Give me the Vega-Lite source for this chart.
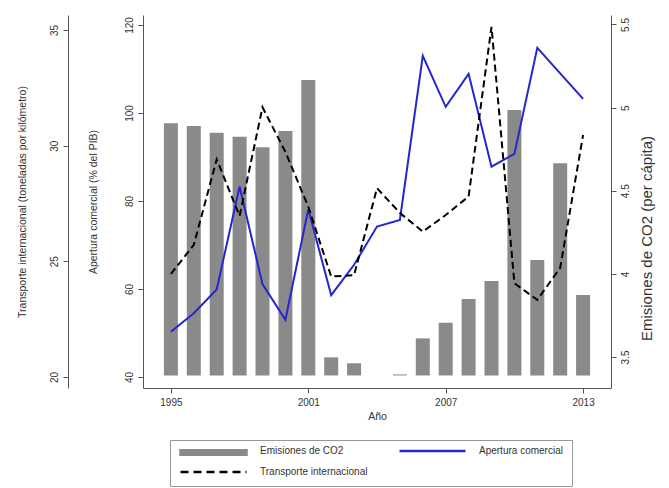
{
  "$schema": "https://vega.github.io/schema/vega-lite/v6.json",
  "width": 468,
  "height": 373,
  "autosize": {"type": "none"},
  "padding": {"left": 143, "top": 15, "right": 58, "bottom": 100},
  "background": "white",
  "config": {
    "font": "Liberation Sans",
    "view": {"stroke": null},
    "axis": {
      "domainColor": "#555555",
      "tickColor": "#555555",
      "labelColor": "#333333",
      "titleColor": "#333333",
      "labelFontSize": 10,
      "titleFontSize": 10.5,
      "titleFontWeight": "normal",
      "tickSize": 5,
      "grid": false
    }
  },
  "data": {
    "values": [
      {"year": 1995, "co2": 4.906, "apertura": 50.3, "transporte": 24.45},
      {"year": 1996, "co2": 4.889, "apertura": 54.5, "transporte": 25.71},
      {"year": 1997, "co2": 4.849, "apertura": 59.9, "transporte": 29.41},
      {"year": 1998, "co2": 4.825, "apertura": 83.3, "transporte": 26.96},
      {"year": 1999, "co2": 4.761, "apertura": 61.1, "transporte": 31.66},
      {"year": 2000, "co2": 4.859, "apertura": 53.0, "transporte": 29.73},
      {"year": 2001, "co2": 5.166, "apertura": 78.1, "transporte": 27.36},
      {"year": 2002, "co2": 3.498, "apertura": 58.6, "transporte": 24.34},
      {"year": 2003, "co2": 3.462, "apertura": 65.5, "transporte": 24.40},
      {"year": 2004, "co2": null, "apertura": 74.2, "transporte": 28.16},
      {"year": 2005, "co2": 3.395, "apertura": 75.7, "transporte": 27.09},
      {"year": 2006, "co2": 3.612, "apertura": 113.0, "transporte": 26.28},
      {"year": 2007, "co2": 3.706, "apertura": 101.4, "transporte": 27.00},
      {"year": 2008, "co2": 3.849, "apertura": 108.9, "transporte": 27.80},
      {"year": 2009, "co2": 3.957, "apertura": 87.8, "transporte": 35.14},
      {"year": 2010, "co2": 4.986, "apertura": 90.7, "transporte": 24.05},
      {"year": 2011, "co2": 4.083, "apertura": 114.8, "transporte": 23.33},
      {"year": 2012, "co2": 4.665, "apertura": 109.0, "transporte": 24.72},
      {"year": 2013, "co2": 3.873, "apertura": 103.2, "transporte": 30.46}
    ]
  },
  "encoding": {
    "x": {
      "field": "year",
      "type": "quantitative",
      "scale": {"domain": [1994, 2014], "nice": false, "zero": false},
      "axis": {"title": "Año", "values": [1995, 2001, 2007, 2013], "format": "d", "labelPadding": 4, "titlePadding": 4}
    }
  },
  "layer": [
    {
      "mark": {"type": "bar", "size": 14},
      "encoding": {
        "y": {
          "field": "co2",
          "type": "quantitative",
          "scale": {"domain": [3.3135, 5.557], "nice": false, "zero": false},
          "axis": {
            "orient": "right",
            "title": "Emisiones de CO2 (per cápita)",
            "titleFontSize": 15,
            "values": [3.5, 4, 4.5, 5, 5.5],
            "format": "~g",
            "labelAngle": -90,
            "labelPadding": 4,
            "titleAngle": -90,
            "titlePadding": 24,
            "titleY": 223
          }
        },
        "y2": {"datum": 3.389},
        "color": {
          "datum": "Emisiones de CO2",
          "type": "nominal",
          "scale": {
            "domain": ["Emisiones de CO2", "Transporte internacional", "Apertura comercial"],
            "range": ["#8a8a8a", "#000000", "#2626d0"]
          },
          "legend": {
            "title": null,
            "orient": "none",
            "legendX": 27,
            "legendY": 425,
            "columns": 2,
            "columnPadding": 30,
            "rowPadding": 11,
            "padding": 9,
            "strokeColor": "#999999",
            "fillColor": "white",
            "symbolSize": 4356,
            "clipHeight": 4,
            "labelOffset": 12,
            "labelFontSize": 10,
            "labelColor": "#333333",
            "labelLimit": 300,
            "encode": {
              "symbols": {
                "update": {
                  "shape": {"signal": "datum.value === 'Emisiones de CO2' ? 'M-1,-0.21H1V0.21H-1Z' : 'M-1,0H1'"},
                  "fill": {"signal": "datum.value === 'Emisiones de CO2' ? '#8a8a8a' : 'transparent'"},
                  "stroke": {"signal": "datum.value === 'Emisiones de CO2' ? 'transparent' : (datum.value === 'Apertura comercial' ? '#2626d0' : '#000000')"},
                  "strokeDash": {"signal": "datum.value === 'Transporte internacional' ? [8, 5] : [1, 0]"},
                  "strokeWidth": {"value": 2.5},
                  "opacity": {"value": 1}
                }
              }
            }
          }
        }
      }
    },
    {
      "mark": {"type": "line", "strokeWidth": 2},
      "encoding": {
        "y": {
          "field": "apertura",
          "type": "quantitative",
          "scale": {"domain": [37.5, 122.27], "nice": false, "zero": false},
          "axis": {
            "orient": "left",
            "title": "Apertura comercial (% del PIB)",
            "values": [40, 60, 80, 100, 120],
            "labelAngle": -90,
            "labelPadding": 4,
            "titlePadding": 26
          }
        },
        "color": {"datum": "Apertura comercial", "type": "nominal"}
      }
    },
    {
      "mark": {"type": "line", "strokeWidth": 2, "strokeDash": [7, 4]},
      "encoding": {
        "y": {
          "field": "transporte",
          "type": "quantitative",
          "scale": {"domain": [19.52, 35.65], "nice": false, "zero": false},
          "axis": {
            "orient": "left",
            "offset": 75,
            "title": "Transporte internacional (toneladas por kilómetro)",
            "values": [20, 25, 30, 35],
            "labelAngle": -90,
            "labelPadding": 4,
            "titlePadding": 22
          }
        },
        "color": {"datum": "Transporte internacional", "type": "nominal"}
      }
    }
  ],
  "resolve": {"scale": {"y": "independent"}, "axis": {"y": "independent"}}
}
